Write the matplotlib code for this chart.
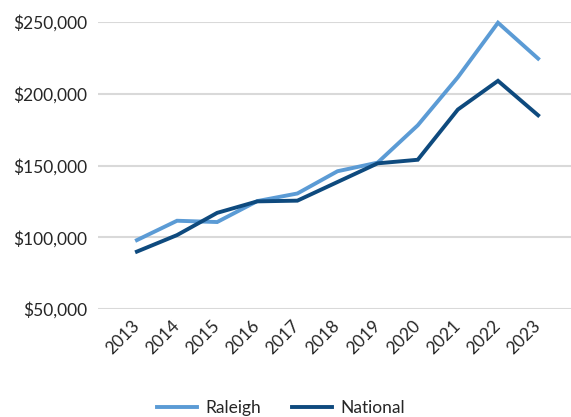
import matplotlib
matplotlib.use("Agg")
import matplotlib.pyplot as plt
from matplotlib.ticker import FuncFormatter

years = ["2013", "2014", "2015", "2016", "2017", "2018", "2019", "2020", "2021", "2022", "2023"]
raleigh = [98000, 111500, 110600, 125200, 130500, 146000, 152000, 178000, 211500, 249500, 224500]
national = [90000, 101500, 117000, 125000, 125500, 138500, 151500, 154000, 189000, 209000, 185000]
yticks = [50000, 100000, 150000, 200000, 250000]

plt.rcParams['font.family'] = ['Lato', 'DejaVu Sans']
W, H = 571, 417
fig = plt.figure(figsize=(W / 100, H / 100), dpi=100)
left, right, top, bottom = 98, 571, 22, 309
ax = fig.add_axes([left / W, 1 - bottom / H, (right - left) / W, (bottom - top) / H])

x = list(range(len(years)))
ax.plot(x, raleigh, color="#5B9BD5", lw=2.8, label="Raleigh", clip_on=False, solid_joinstyle="miter")
ax.plot(x, national, color="#0E4A7E", lw=2.8, label="National", clip_on=False, solid_joinstyle="miter")

ax.set_ylim(50000, 250000)
ax.set_xlim(-0.97, 10.82)
ax.set_yticks(yticks)
ax.yaxis.set_major_formatter(FuncFormatter(lambda v, p: f"${v:,.0f}"))
ax.set_xticks(x)
ax.set_xticklabels(years, rotation=45, ha="right", va="center", rotation_mode="anchor")
ax.grid(axis="y", color="#D9D9D9", lw=1.5)
ax.set_axisbelow(True)
for s in ax.spines.values():
    s.set_visible(False)
ax.tick_params(axis="both", length=0, colors="#262626", labelsize=12.5)
ax.tick_params(axis="x", pad=10)
ax.tick_params(axis="y", pad=8)

fig.legend(loc="center", bbox_to_anchor=(281 / W, 1 - 408 / H), ncol=2, frameon=False,
           fontsize=12.5, handlelength=2.3, handletextpad=0.5, columnspacing=1.8, labelcolor="#262626")
fig.savefig("out.png", dpi=100)
